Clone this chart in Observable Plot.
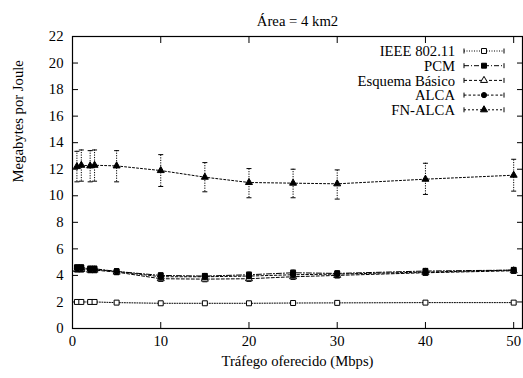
<!DOCTYPE html>
<html><head><meta charset="utf-8">
<script src="https://cdn.jsdelivr.net/npm/d3@7"></script>
<script src="https://cdn.jsdelivr.net/npm/@observablehq/plot@0.6"></script>
<style>body{margin:0;background:#fff}</style>
</head><body><div id="chart"></div>
<script>
const traffic = [0.5, 1, 2, 2.5, 5, 10, 15, 20, 25, 30, 40, 50];
const seriesNames = ["IEEE 802.11", "PCM", "Esquema Básico", "ALCA", "FN-ALCA"];
const ieee    = [2.0, 2.0, 2.0, 2.0, 1.95, 1.9, 1.9, 1.9, 1.92, 1.93, 1.95, 1.95];
const pcm     = [4.6, 4.6, 4.5, 4.5, 4.3, 4.0, 3.95, 4.05, 4.2, 4.15, 4.33, 4.4];
const esquema = [4.45, 4.45, 4.4, 4.4, 4.25, 3.75, 3.72, 3.75, 3.9, 4.0, 4.2, 4.35];
const alca    = [4.55, 4.55, 4.45, 4.45, 4.3, 3.9, 3.9, 3.95, 4.05, 4.1, 4.25, 4.4];
const fnalca  = [12.2, 12.3, 12.25, 12.3, 12.25, 11.9, 11.4, 11.0, 10.95, 10.9, 11.25, 11.55];
const fnalcaLo = [11.05, 11.1, 11.05, 11.1, 11.05, 10.7, 10.3, 9.85, 9.85, 9.75, 10.1, 10.35];
const fnalcaHi = [13.35, 13.45, 13.4, 13.45, 13.4, 13.1, 12.5, 12.05, 12.0, 11.95, 12.45, 12.75];
const smallErr = [0.05, 0.2, 0.2, 0.2, 0.0];
const yTicks = [0, 2, 4, 6, 8, 10, 12, 14, 16, 18, 20, 22];
const xTicks = [0, 10, 20, 30, 40, 50];

const values = [ieee, pcm, esquema, alca, fnalca];
const styles = [
  {dash: "1,1.5", symbol: "square", fill: "white"},
  {dash: "5,2,1,2", symbol: "square", fill: "black"},
  {dash: "3,2", symbol: "triangle", fill: "white"},
  {dash: "2.5,2", symbol: "circle", fill: "black"},
  {dash: "2,2", symbol: "triangle", fill: "black"}
];
const symR = {square: 2.8, triangle: 2.6, circle: 2.6};

const rows = [];
seriesNames.forEach((s, i) => traffic.forEach((x, j) => {
  const v = values[i][j];
  const lo = i === 4 ? fnalcaLo[j] : v - smallErr[i];
  const hi = i === 4 ? fnalcaHi[j] : v + smallErr[i];
  rows.push({series: s, x, y: v, lo, hi});
}));

const cap = {draw(ctx) { ctx.moveTo(-2.5, 0); ctx.lineTo(2.5, 0); }};
const FF = "'Liberation Serif', serif";
const FS = 14.7;

const marks = [];
seriesNames.forEach((s, i) => {
  const d = rows.filter(r => r.series === s);
  const st = styles[i];
  marks.push(Plot.ruleX(d, {x: "x", y1: "lo", y2: "hi", stroke: "black", strokeWidth: 1, strokeDasharray: "1.2,1.3"}));
  marks.push(Plot.dot(d, {x: "x", y: "lo", symbol: cap, stroke: "black", fill: "none", strokeWidth: 1}));
  marks.push(Plot.dot(d, {x: "x", y: "hi", symbol: cap, stroke: "black", fill: "none", strokeWidth: 1}));
  marks.push(Plot.line(d, {x: "x", y: "y", stroke: "black", strokeWidth: 1, strokeDasharray: st.dash}));
  marks.push(Plot.dot(d, {x: "x", y: "y", symbol: st.symbol, r: symR[st.symbol], fill: st.fill, stroke: "black", strokeWidth: 1}));
});

const chart = Plot.plot({
  width: 523, height: 378,
  marginLeft: 72, marginRight: 1, marginTop: 36, marginBottom: 50,
  style: {fontFamily: FF, fontSize: FS + "px", background: "white", color: "black"},
  x: {domain: [0, 51]},
  y: {domain: [0, 22]},
  marks: [
    Plot.axisX(xTicks, {anchor: "bottom", tickSize: 0, tickPadding: 7, label: null, fontSize: FS}),
    Plot.axisX(xTicks, {anchor: "bottom", tickSize: -6, text: null, label: null}),
    Plot.axisX(xTicks, {anchor: "top", tickSize: -6, text: null, label: null}),
    Plot.axisY(yTicks, {anchor: "left", tickSize: 0, tickPadding: 9, label: null, fontSize: FS}),
    Plot.axisY(yTicks, {anchor: "left", tickSize: -6, text: null, label: null}),
    Plot.axisY(yTicks, {anchor: "right", tickSize: -6, text: null, label: null}),
    ...marks,
    Plot.frame({stroke: "black", strokeWidth: 1.2}),
    Plot.text(["Área = 4 km2"], {frameAnchor: "top", dy: -21, fontSize: FS}),
    Plot.text(["Tráfego oferecido (Mbps)"], {frameAnchor: "bottom", dy: 37, fontSize: FS}),
    Plot.text(["Megabytes por Joule"], {frameAnchor: "left", dx: -54, rotate: -90, fontSize: FS})
  ]
});

// legend (inside the plot, top-right)
const svg = d3.select(chart);
const leg = svg.append("g");
const symMap = {square: d3.symbolSquare, triangle: d3.symbolTriangle, circle: d3.symbolCircle};
seriesNames.forEach((s, i) => {
  const y = 51 + i * 14.7;
  const st = styles[i];
  leg.append("text").attr("x", 455).attr("y", y).attr("text-anchor", "end").attr("dy", "0.35em")
    .attr("font-size", FS).attr("fill", "black").text(s);
  leg.append("line").attr("x1", 464).attr("x2", 504).attr("y1", y).attr("y2", y)
    .attr("stroke", "black").attr("stroke-dasharray", st.dash);
  [464, 504].forEach(x => leg.append("line").attr("x1", x).attr("x2", x).attr("y1", y - 2.5).attr("y2", y + 2.5).attr("stroke", "black"));
  const r = symR[st.symbol];
  leg.append("path").attr("transform", `translate(484,${y})`)
    .attr("d", d3.symbol(symMap[st.symbol], r * r * Math.PI)())
    .attr("fill", st.fill).attr("stroke", "black");
});

document.getElementById("chart").appendChild(chart);
</script>
</body></html>
